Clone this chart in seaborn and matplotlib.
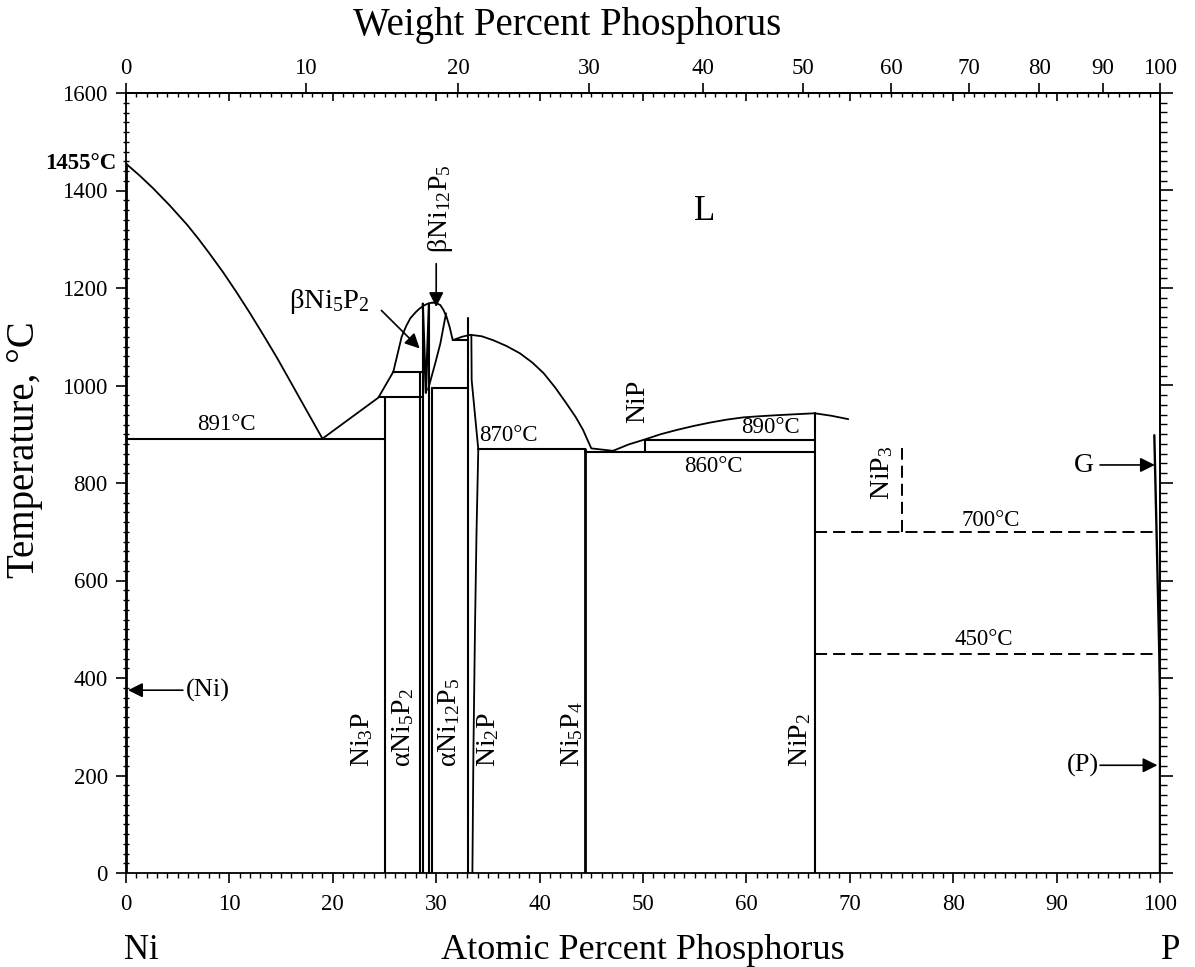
import numpy as np
import matplotlib
matplotlib.use("Agg")
import matplotlib.pyplot as plt
import seaborn as sns
from matplotlib.ticker import MultipleLocator, NullLocator

# molar masses for the wt% <-> at% top axis
M_NI, M_P = 58.693, 30.974

# liquidus Ni side (at.% P, degC)
ni_liq_x = [0, 1.3, 2.6, 4.2, 5.9, 7.0, 8.1, 9.4, 10.7, 12.0, 13.3, 14.6, 15.9, 17.3, 19.0]
ni_liq_t = [1455, 1431, 1405, 1370, 1330, 1301, 1270, 1232, 1191, 1148, 1103, 1057, 1008, 955, 891]
eut_rise_x = [19.0, 24.4, 25.85]
eut_rise_t = [891, 975, 1028]
# beta Ni5P2 / beta Ni12P5 domes
b52_x = [25.85, 26.2, 26.66, 27.1, 27.5, 28.0, 28.4, 28.8, 29.2, 29.6]
b52_t = [1028, 1059, 1100, 1122, 1138, 1150, 1158, 1164, 1168, 1170]
b125_x = [29.6, 30.0, 30.4, 30.7, 31.0, 31.3, 31.6]
b125_t = [1170, 1169, 1165, 1155, 1141, 1120, 1093]
b125_in_x = [29.2, 29.9, 30.4, 30.7, 30.95]
b125_in_t = [991, 1045, 1086, 1120, 1148]
b52_v_x = [28.7, 29.0, 29.3]
b52_v_t = [1168, 985, 1168]
# Ni2P and NiP liquidus
ni2p_liq_x = [31.6, 32.5, 33.3, 34.4, 35.5, 36.8, 38.1, 39.3, 40.4, 41.5, 42.6, 43.5, 44.2, 45.0, 47.1]
ni2p_liq_t = [1093, 1100, 1104, 1101, 1093, 1081, 1066, 1047, 1025, 996, 963, 935, 909, 871, 866]
nip_liq_x = [47.1, 48.6, 50.2, 51.7, 53.3, 54.9, 56.5, 58.1, 59.7, 61.3, 62.9, 64.7, 66.6, 68.2, 69.85]
nip_liq_t = [866, 879, 889.5, 900, 909, 917, 924, 930, 934.6, 937, 939, 941, 943, 938, 931]
# Ni2P right phase boundary
ni2p_rb_x = [33.4, 33.43, 34.07, 33.9, 33.75, 33.6, 33.5]
ni2p_rb_t = [1103, 1011, 869, 700, 500, 250, 0]
# P side boundary
p_side_x = [99.45, 99.67, 99.93, 100, 100]
p_side_t = [898, 697, 450, 355, 0]

# compound lines: (at.% P, T low, T high)
verticals = [(0, 0, 1455), (25.0, 0, 976), (28.4, 0, 1028), (28.7, 0, 1168),
             (29.3, 0, 1168), (29.6, 0, 994), (33.1, 0, 1138),
             (44.4, 0, 869), (50.2, 864, 889), (66.6, 0, 943)]
# invariant lines: (T, x from, x to)
horizontals = [(891, 0, 25.0), (976, 24.5, 28.6), (1028, 25.85, 28.6),
               (994, 29.6, 33.1), (1093, 31.6, 33.1), (869, 34.07, 44.4),
               (864, 44.4, 66.6), (889, 50.2, 66.6)]
dashed_h = [(700, 66.6, 99.65), (450, 66.6, 100)]
dashed_v = [(75.0, 700, 871)]

temp_labels = [("891°C", 9.7, 919), ("870°C", 37.0, 898), ("890°C", 62.3, 913),
               ("860°C", 56.8, 833), ("700°C", 83.6, 724), ("450°C", 83.0, 478)]
phase_labels = [("Ni$_3$P", 22.8), ("αNi$_5$P$_2$", 26.8), ("αNi$_{12}$P$_5$", 31.3),
                ("Ni$_2$P", 35.0), ("Ni$_5$P$_4$", 43.1), ("NiP$_2$", 65.2)]
arrows = [((5.5, 375), (0.2, 375)), ((94.2, 837), (99.5, 837)),
          ((94.2, 221), (99.75, 221)), ((24.7, 1154), (28.4, 1076)),
          ((30.0, 1250), (30.0, 1161))]


def at_to_wt(x):
    x = np.asarray(x, float)
    with np.errstate(divide="ignore", invalid="ignore"):
        return 100 * x * M_P / (x * M_P + (100 - x) * M_NI)


def wt_to_at(w):
    w = np.asarray(w, float)
    a = w / M_P
    b = (100 - w) / M_NI
    with np.errstate(divide="ignore", invalid="ignore"):
        return 100 * a / (a + b)


def trace(ax, xs, ts, lw=1.3, ls="-"):
    sns.lineplot(x=xs, y=ts, ax=ax, color="black", sort=False, estimator=None,
                 legend=False, linewidth=lw, linestyle=ls)


sns.set_style("ticks")
plt.rcParams["font.family"] = ["Liberation Serif", "DejaVu Serif"]
plt.rcParams["mathtext.fontset"] = "custom"
plt.rcParams["mathtext.rm"] = "Liberation Serif"
plt.rcParams["mathtext.it"] = "Liberation Serif:italic"
plt.rcParams["axes.linewidth"] = 1.3
for key in ["text.color", "axes.labelcolor", "xtick.color", "ytick.color", "axes.edgecolor"]:
    plt.rcParams[key] = "black"

fig = plt.figure(figsize=(11.95, 9.67), dpi=100)
ax = fig.add_axes([126 / 1195, 94 / 967, 1034 / 1195, 780 / 967])

trace(ax, ni_liq_x, ni_liq_t)
trace(ax, eut_rise_x, eut_rise_t)
trace(ax, b52_x, b52_t)
trace(ax, b125_x, b125_t)
trace(ax, b125_in_x, b125_in_t)
trace(ax, b52_v_x, b52_v_t, lw=1.6)
trace(ax, ni2p_liq_x, ni2p_liq_t)
trace(ax, nip_liq_x, nip_liq_t)
trace(ax, ni2p_rb_x, ni2p_rb_t)
trace(ax, p_side_x, p_side_t, lw=1.7)

for x, t0, t1 in verticals:
    trace(ax, [x, x], [t0, t1], lw=2.0 if x in (0, 44.4) else 1.5)
for t, x0, x1 in horizontals:
    trace(ax, [x0, x1], [t, t], lw=1.5)
for t, x0, x1 in dashed_h:
    trace(ax, [x0, x1], [t, t], lw=1.4, ls=(0, (6.2, 3.1)))
for x, t0, t1 in dashed_v:
    trace(ax, [x, x], [t0, t1], lw=1.4, ls=(0, (6.2, 3.1)))

for tail, tip in arrows:
    ax.annotate("", xy=tip, xytext=tail,
                arrowprops=dict(arrowstyle="-|>", color="black", lw=1.2,
                                mutation_scale=22, shrinkA=0, shrinkB=0))

for txt, x, t in temp_labels:
    ax.text(x, t, txt, ha="center", va="center", fontsize=16.5)
for txt, x in phase_labels:
    ax.text(x, 217, txt, rotation=90, ha="center", va="bottom", fontsize=20)
ax.text(49.5, 923, "NiP", rotation=90, ha="center", va="bottom", fontsize=20)
ax.text(73.1, 765, "NiP$_3$", rotation=90, ha="center", va="bottom", fontsize=20)
ax.text(30.4, 1272, "βNi$_{12}$P$_5$", rotation=90, ha="center", va="bottom", fontsize=20)
ax.text(19.7, 1172, "βNi$_5$P$_2$", ha="center", va="center", fontsize=20.5)
ax.text(56.0, 1356, "L", ha="center", va="center", fontsize=25)
ax.text(7.9, 375, "(Ni)", ha="center", va="center", fontsize=19)
ax.text(92.6, 835, "G", ha="center", va="center", fontsize=20)
ax.text(92.5, 221, "(P)", ha="center", va="center", fontsize=19)
ax.text(-0.9, 1456, "1455°C", ha="right", va="center", fontsize=16.5,
        fontweight="bold", clip_on=False)

ax.set_xlim(0, 100)
ax.set_ylim(0, 1600)
ax.set_xlabel("")
ax.set_ylabel("")
ax.set_xticks(range(0, 101, 10))
ax.xaxis.set_minor_locator(MultipleLocator(1))
ax.set_yticks(range(0, 1601, 200))
ax.yaxis.set_minor_locator(MultipleLocator(20))
ax.tick_params(axis="x", which="major", direction="out", length=7.2, width=1.2,
               labelsize=16.5, pad=8, top=False)
ax.tick_params(axis="x", which="minor", direction="out", length=3.6, width=1, top=False)
ax.tick_params(axis="y", which="major", direction="out", length=7.2, width=1.2,
               labelsize=16.5, pad=6, right=False)
ax.tick_params(axis="y", which="minor", direction="inout", length=4.8, width=1, right=False)

top_at = ax.secondary_xaxis("top")
top_at.set_xticks(range(0, 101, 10))
top_at.xaxis.set_minor_locator(MultipleLocator(1))
top_at.tick_params(which="major", direction="in", length=5.8, width=1.2, labeltop=False)
top_at.tick_params(which="minor", direction="in", length=2.9, width=1)

top_wt = ax.secondary_xaxis("top", functions=(at_to_wt, wt_to_at))
top_wt.set_xticks(range(0, 101, 10))
top_wt.xaxis.set_minor_locator(NullLocator())
top_wt.tick_params(which="major", direction="out", length=7.2, width=1.2,
                   labelsize=16.5, pad=3)

right = ax.secondary_yaxis("right")
right.set_yticks(range(0, 1601, 200))
right.yaxis.set_minor_locator(MultipleLocator(20))
right.tick_params(which="major", direction="out", length=9.4, width=1.2, labelright=False)
right.tick_params(which="minor", direction="out", length=4.8, width=1)

fig.text(567 / 1195, 1 - 35 / 967, "Weight Percent Phosphorus", ha="center",
         va="baseline", fontsize=28)
fig.text(643 / 1195, 8 / 967, "Atomic Percent Phosphorus", ha="center",
         va="baseline", fontsize=26)
fig.text(141 / 1195, 8 / 967, "Ni", ha="center", va="baseline", fontsize=25)
fig.text(1171 / 1195, 8 / 967, "P", ha="center", va="baseline", fontsize=25)
fig.text(25 / 1195, 1 - 450 / 967, "Temperature, °C", rotation=90, ha="center",
         va="center", fontsize=28)

fig.savefig("out.png", dpi=100)
